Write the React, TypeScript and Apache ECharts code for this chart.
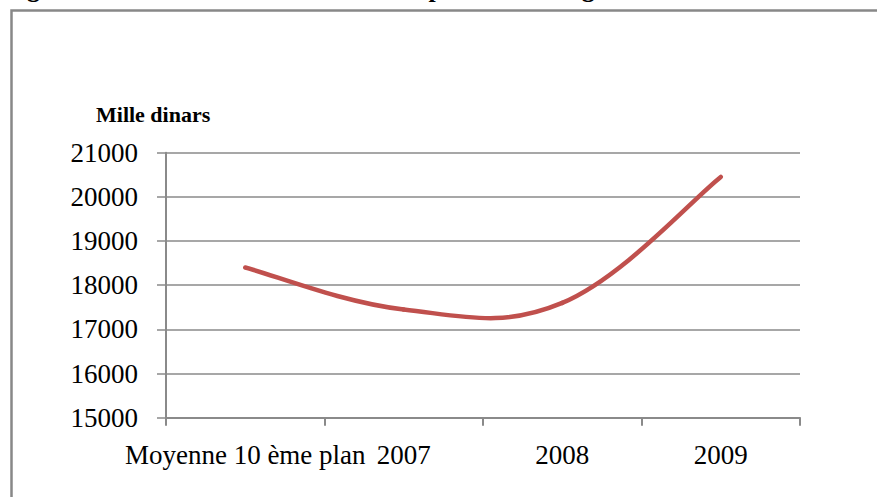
import React, { useEffect, useRef } from "react";
import * as echarts from "echarts";

const categories = ["Moyenne 10 ème plan", "2007", "2008", "2009"];
const values = [18400, 17450, 17600, 20450];
const yTicks = { min: 15000, max: 21000, interval: 1000 };
const yAxisTitle = "Mille dinars";
const figureTitle = "Figure 1 : Evolution de la valeur de la production végétale";

export default function App() {
  const ref = useRef<HTMLDivElement>(null);
  useEffect(() => {
    document.body.style.margin = "0";
    const chart = echarts.init(ref.current!, null, { renderer: "svg" });
    const serif = "Liberation Serif";
    const gray = "#8a8a8a";
    const red = "#c0504d";
    const tension = 0.19;
    chart.setOption({
      animation: false,
      backgroundColor: "#ffffff",
      grid: { left: 166, right: 77, top: 152.7, bottom: 79.3, containLabel: false },
      xAxis: {
        type: "category",
        data: categories,
        boundaryGap: true,
        axisLine: { show: true, lineStyle: { color: gray, width: 2 } },
        axisTick: { show: true, length: 8, lineStyle: { color: gray, width: 2 } },
        axisLabel: { color: "#000", fontFamily: serif, fontSize: 27, margin: 24, interval: 0 },
        splitLine: { show: false },
      },
      yAxis: {
        type: "value",
        min: yTicks.min,
        max: yTicks.max,
        interval: yTicks.interval,
        axisLine: { show: true, lineStyle: { color: gray, width: 2 } },
        axisTick: { show: true, length: 9, lineStyle: { color: gray, width: 1.5 } },
        axisLabel: {
          color: "#000",
          fontFamily: serif,
          fontSize: 27,
          margin: 28,
          formatter: (v: number) => String(v),
        },
        splitLine: { show: true, lineStyle: { color: gray, width: 1.5 } },
      },
      series: [
        {
          type: "custom",
          data: values.map((v, i) => [i, v]),
          encode: { x: 0, y: 1 },
          renderItem: (params: any, api: any) => {
            const i = params.dataIndex;
            const n = values.length;
            if (i >= n - 1) return null;
            const p = (j: number) => {
              const k = Math.max(0, Math.min(n - 1, j));
              return api.coord([k, values[k]]);
            };
            const p0 = p(i - 1);
            const p1 = p(i);
            const p2 = p(i + 1);
            const p3 = p(i + 2);
            return {
              type: "bezierCurve",
              shape: {
                x1: p1[0],
                y1: p1[1],
                cpx1: p1[0] + (p2[0] - p0[0]) * tension,
                cpy1: p1[1] + (p2[1] - p0[1]) * tension,
                cpx2: p2[0] - (p3[0] - p1[0]) * tension,
                cpy2: p2[1] - (p3[1] - p1[1]) * tension,
                x2: p2[0],
                y2: p2[1],
              },
              style: { stroke: red, lineWidth: 4.5, fill: "none", lineCap: "round" },
            };
          },
        },
      ],
      graphic: [
        {
          type: "rect",
          shape: { x: 11.5, y: 10.5, width: 900, height: 600 },
          style: { fill: "none", stroke: "#888888", lineWidth: 2.5 },
          silent: true,
        },
        {
          type: "text",
          x: 96,
          y: 114.5,
          style: {
            text: yAxisTitle,
            fill: "#000",
            font: "bold 22px 'Liberation Serif', serif",
            verticalAlign: "middle",
          },
        },
        {
          type: "text",
          x: 4,
          y: 1,
          style: {
            text: figureTitle,
            fill: "#000",
            font: "bold 26px 'Liberation Serif', serif",
            verticalAlign: "bottom",
          },
        },
      ],
    });
    return () => chart.dispose();
  }, []);
  return <div ref={ref} style={{ position: "absolute", left: 0, top: 0, width: 877, height: 497 }} />;
}
